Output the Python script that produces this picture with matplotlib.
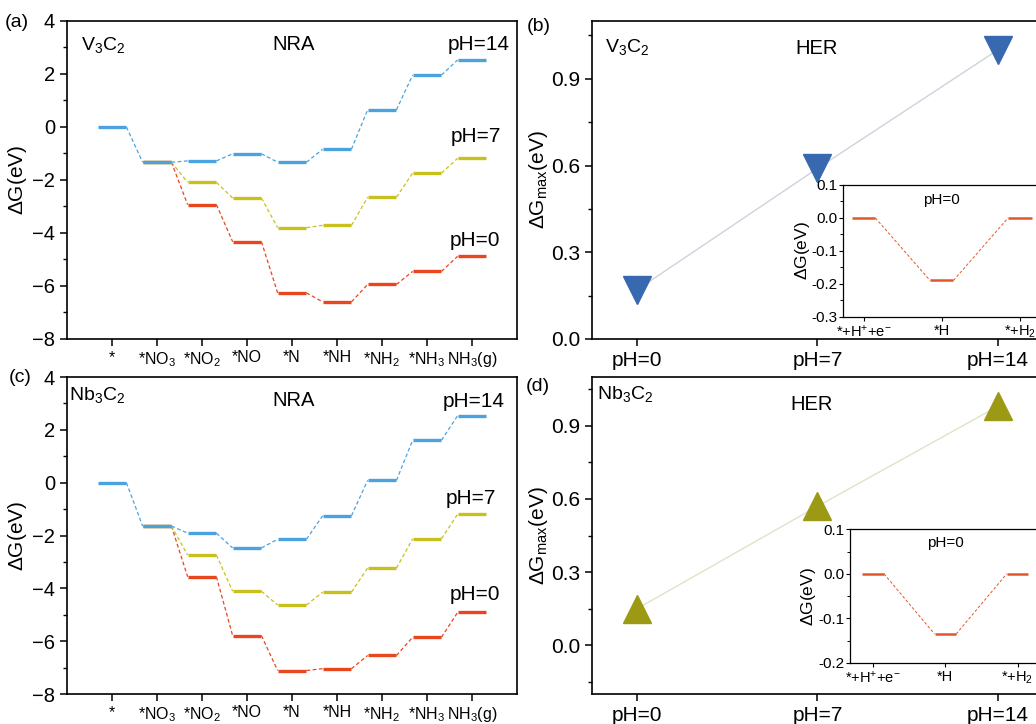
#!/usr/bin/env python3
"""
NRA / HER free energy diagrams for V3C2 and Nb3C2
"""

import matplotlib
matplotlib.use('Agg')
import matplotlib.pyplot as plt
from matplotlib.ticker import MultipleLocator

plt.rcParams['font.family'] = ['Liberation Sans', 'DejaVu Sans']
plt.rcParams['mathtext.fontset'] = 'custom'
plt.rcParams['mathtext.rm'] = 'Liberation Sans'
plt.rcParams['mathtext.it'] = 'Liberation Sans:italic'
plt.rcParams['mathtext.default'] = 'regular'
plt.rcParams['axes.linewidth'] = 1.2

# NRA steps
steps = ['*', '*NO$_3$', '*NO$_2$', '*NO', '*N', '*NH', '*NH$_2$', '*NH$_3$', 'NH$_3$(g)']

# V3C2 free energies (eV)
v3c2_ph14 = [0, -1.33, -1.28, -1.01, -1.33, -0.84, 0.65, 1.96, 2.53]
v3c2_ph7 = [0, -1.33, -2.09, -2.68, -3.80, -3.71, -2.65, -1.74, -1.18]
v3c2_ph0 = [0, -1.33, -2.93, -4.33, -6.26, -6.60, -5.94, -5.45, -4.88]

# Nb3C2 free energies (eV)
nb3c2_ph14 = [0, -1.64, -1.91, -2.47, -2.14, -1.25, 0.09, 1.61, 2.54]
nb3c2_ph7 = [0, -1.64, -2.74, -4.11, -4.63, -4.14, -3.23, -2.12, -1.19]
nb3c2_ph0 = [0, -1.64, -3.56, -5.79, -7.11, -7.04, -6.54, -5.85, -4.91]

# HER max free energy vs pH
ph_labels = ['pH=0', 'pH=7', 'pH=14']
v3c2_her = [0.17, 0.59, 1.00]
nb3c2_her = [0.15, 0.57, 0.98]

# HER pathway at pH=0 (insets)
her_steps = ['*+H$^{+}$+e$^{-}$', '*H', '*+H$_2$']
v3c2_her_path = [0, -0.19, 0]
nb3c2_her_path = [0, -0.135, 0]

BLUE = '#4aa3df'
YELLOW = '#c8c01c'
RED = '#e8461c'
INSET_RED = '#e2572a'


def draw_levels(ax, vals, color, hw=0.32, start=0, lw=2.4, dash_lw=0.9, xs=None):
    if xs is None:
        xs = list(range(1, len(vals) + 1))
    for i in range(start, len(vals)):
        ax.plot([xs[i] - hw, xs[i] + hw], [vals[i], vals[i]], color=color, lw=lw,
                solid_capstyle='butt')
        if i + 1 < len(vals):
            ax.plot([xs[i] + hw, xs[i + 1] - hw], [vals[i], vals[i + 1]], color=color,
                    lw=dash_lw, ls=(0, (3, 2)))


def nra_panel(ax, ph0, ph7, ph14, name, label_pos):
    draw_levels(ax, ph0, RED, start=1)
    draw_levels(ax, ph7, YELLOW, start=1)
    draw_levels(ax, ph14, BLUE)
    ax.set_xlim(0, 10)
    ax.set_ylim(-8, 4)
    ax.set_xticks(range(1, 10))
    ax.set_xticklabels(steps, fontsize=11.5)
    ax.yaxis.set_major_locator(MultipleLocator(2))
    ax.yaxis.set_minor_locator(MultipleLocator(1))
    ax.tick_params(axis='y', labelsize=14.5, direction='out', length=5, width=1.1)
    ax.tick_params(axis='y', which='minor', direction='out', length=3, width=1)
    ax.tick_params(axis='x', direction='out', length=5, width=1.1, pad=3)
    ax.set_ylabel(r'$\Delta$G(eV)', fontsize=15, labelpad=2)
    ax.text(label_pos[0], label_pos[1], name, transform=ax.transAxes, fontsize=14,
            ha='left', va='center')
    ax.text(0.503, 0.925, 'NRA', transform=ax.transAxes, fontsize=14.5, ha='center', va='center')


def her_panel(ax, vals, marker, color, line_color, ylim, name, name_pos, her_pos):
    x = range(len(vals))
    ax.plot(x, vals, color=line_color, lw=1, zorder=1)
    ax.plot(x, vals, ls='none', marker=marker, ms=20, color=color, mec=color, zorder=2)
    ax.set_xlim(-0.25, 2.25)
    ax.set_ylim(*ylim)
    ax.set_xticks(list(x))
    ax.set_xticklabels(ph_labels, fontsize=15)
    ax.set_yticks([0, 0.3, 0.6, 0.9])
    ax.yaxis.set_minor_locator(MultipleLocator(0.15))
    ax.tick_params(axis='y', labelsize=15, direction='out', length=5, width=1.1)
    ax.tick_params(axis='y', which='minor', direction='out', length=3, width=1)
    ax.tick_params(axis='x', direction='out', length=5, width=1.1)
    ax.set_ylabel(r'$\Delta$G$_{\mathrm{max}}$(eV)', fontsize=15, labelpad=1)
    ax.text(name_pos[0], name_pos[1], name, transform=ax.transAxes, fontsize=14,
            ha='left', va='center')
    ax.text(her_pos[0], her_pos[1], 'HER', transform=ax.transAxes, fontsize=14.5,
            ha='center', va='center')


def inset_panel(ax, vals, ylim, xlim, text_y):
    draw_levels(ax, vals, INSET_RED, hw=0.15, lw=1.8, dash_lw=0.7, xs=[0, 1, 2])
    ax.set_xlim(*xlim)
    ax.set_ylim(*ylim)
    ax.set_xticks([0, 1, 2])
    ax.set_xticklabels(her_steps, fontsize=10.5)
    ax.yaxis.set_major_locator(MultipleLocator(0.1))
    ax.yaxis.set_minor_locator(MultipleLocator(0.05))
    ax.set_yticklabels([f'{v:.1f}' for v in ax.get_yticks()])
    ax.tick_params(axis='y', labelsize=11, direction='out', length=3, width=0.8, pad=1)
    ax.tick_params(axis='y', which='minor', direction='out', length=2, width=0.7)
    ax.tick_params(axis='x', direction='out', length=3, width=0.8, pad=2)
    for s in ax.spines.values():
        s.set_linewidth(0.9)
    ax.set_ylabel(r'$\Delta$G(eV)', fontsize=12.5, labelpad=0)
    ax.text(1, text_y, 'pH=0', transform=ax.get_xaxis_transform(), fontsize=11,
            ha='center', va='center')


fig = plt.figure(figsize=(10.36, 7.24), dpi=100)

ax_a = fig.add_axes([0.0647, 0.5318, 0.4344, 0.4392])
ax_c = fig.add_axes([0.0647, 0.0414, 0.4344, 0.4378])
ax_b = fig.add_axes([0.5714, 0.5318, 0.4353, 0.4392])
ax_d = fig.add_axes([0.5714, 0.0414, 0.4353, 0.4378])

nra_panel(ax_a, v3c2_ph0, v3c2_ph7, v3c2_ph14, 'V$_3$C$_2$', (0.03, 0.925))
ax_a.text(9.84, 3.1, 'pH=14', fontsize=15, ha='right', va='center')
ax_a.text(9.64, -0.37, 'pH=7', fontsize=15, ha='right', va='center')
ax_a.text(9.62, -4.28, 'pH=0', fontsize=15, ha='right', va='center')

nra_panel(ax_c, nb3c2_ph0, nb3c2_ph7, nb3c2_ph14, 'Nb$_3$C$_2$', (0.005, 0.943))
ax_c.text(9.73, 3.09, 'pH=14', fontsize=15, ha='right', va='center')
ax_c.text(9.53, -0.6, 'pH=7', fontsize=15, ha='right', va='center')
ax_c.text(9.62, -4.24, 'pH=0', fontsize=15, ha='right', va='center')

her_panel(ax_b, v3c2_her, 'v', '#3768b0', '#cdd3dc', (0, 1.1), 'V$_3$C$_2$',
          (0.029, 0.918), (0.497, 0.915))
her_panel(ax_d, nb3c2_her, '^', '#9c9914', '#e2e2c8', (-0.2, 1.1), 'Nb$_3$C$_2$',
          (0.011, 0.947), (0.487, 0.912))

in_b = fig.add_axes([0.814, 0.5626, 0.190, 0.1819])
inset_panel(in_b, v3c2_her_path, (-0.3, 0.1), (-0.26, 2.26), 0.886)
in_d = fig.add_axes([0.8205, 0.0843, 0.184, 0.1847])
inset_panel(in_d, nb3c2_her_path, (-0.2, 0.1), (-0.32, 2.32), 0.90)

fig.text(0.005, 0.969, '(a)', fontsize=14, ha='left', va='center')
fig.text(0.508, 0.964, '(b)', fontsize=14, ha='left', va='center')
fig.text(0.008, 0.479, '(c)', fontsize=14, ha='left', va='center')
fig.text(0.507, 0.466, '(d)', fontsize=14, ha='left', va='center')

plt.savefig('out.png', dpi=100)
print("Saved plot: out.png")
